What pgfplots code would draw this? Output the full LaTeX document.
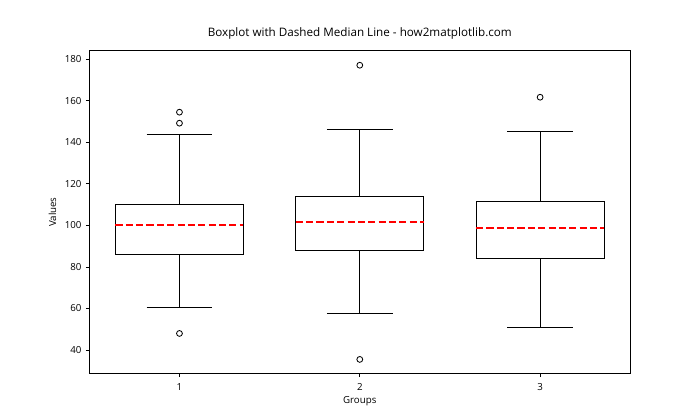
\documentclass[border=0pt]{standalone}
\usepackage{fontspec}
\setmainfont{Open Sans}
\usepackage{pgfplots}
\pgfplotsset{compat=1.18}
\begin{document}
\begin{tikzpicture}
\useasboundingbox (-64.3pt,-33.3pt) rectangle (439.7pt,269.1pt);
\begin{axis}[at={(0pt,0pt)}, anchor=south west, scale only axis,
  width=389.5pt, height=232.6pt,
  xmin=0.5, xmax=3.5, ymin=28.6, ymax=184.1,
  xtick={1,2,3}, ytick={40,60,...,180},
  tick align=outside, tick pos=left, major tick length=2.45pt,
  every tick/.style={black, line width=0.56pt},
  axis line style={line width=0.56pt},
  /pgf/number format/assume math mode=true,
  tick label style={font=\fontsize{7}{8.4}\selectfont},
  xticklabel style={inner sep=0pt, yshift=-4.4pt},
  yticklabel style={inner sep=0pt, xshift=-3pt},
  title={Boxplot with Dashed Median Line - how2matplotlib.com},
  title style={font=\fontsize{8.4}{10}\selectfont, at={(0.5,1)}, anchor=base, yshift=4.2pt},
  xlabel={Groups}, ylabel={Values},
  label style={font=\fontsize{7}{8.4}\selectfont},
  xlabel style={at={(0.5,0)}, anchor=base, yshift=-21.5pt},
  ylabel style={at={(0,0.5)}, anchor=center, yshift=26.5pt},
  boxst/.style={black, line width=0.7pt, line join=miter, mark=none},
  medst/.style={red, line width=1.4pt, dash pattern=on 5.2pt off 2.25pt, mark=none},
]
% group 1
\addplot[boxst] coordinates {(0.645,86.2) (1.355,86.2) (1.355,110.2) (0.645,110.2) (0.645,86.2) (1.355,86.2)};
\addplot[boxst] coordinates {(1,110.2) (1,144.0)};
\addplot[boxst] coordinates {(1,86.2) (1,60.6)};
\addplot[boxst] coordinates {(0.8175,144.0) (1.1825,144.0)};
\addplot[boxst] coordinates {(0.8175,60.6) (1.1825,60.6)};
\addplot[medst] coordinates {(0.645,100.4) (1.355,100.4)};
% group 2
\addplot[boxst] coordinates {(1.645,88.0) (2.355,88.0) (2.355,114.0) (1.645,114.0) (1.645,88.0) (2.355,88.0)};
\addplot[boxst] coordinates {(2,114.0) (2,146.3)};
\addplot[boxst] coordinates {(2,88.0) (2,57.7)};
\addplot[boxst] coordinates {(1.8175,146.3) (2.1825,146.3)};
\addplot[boxst] coordinates {(1.8175,57.7) (2.1825,57.7)};
\addplot[medst] coordinates {(1.645,101.8) (2.355,101.8)};
% group 3
\addplot[boxst] coordinates {(2.645,84.2) (3.355,84.2) (3.355,111.4) (2.645,111.4) (2.645,84.2) (3.355,84.2)};
\addplot[boxst] coordinates {(3,111.4) (3,145.3)};
\addplot[boxst] coordinates {(3,84.2) (3,50.9)};
\addplot[boxst] coordinates {(2.8175,145.3) (3.1825,145.3)};
\addplot[boxst] coordinates {(2.8175,50.9) (3.1825,50.9)};
\addplot[medst] coordinates {(2.645,98.9) (3.355,98.9)};
% outliers
\addplot[only marks, mark=o, mark size=2.1pt, mark options={black, line width=0.6pt, solid}]
  coordinates {(1,154.5) (1,149.2) (1,48.0) (2,177.1) (2,35.5) (3,161.7)};
\end{axis}
\end{tikzpicture}
\end{document}
